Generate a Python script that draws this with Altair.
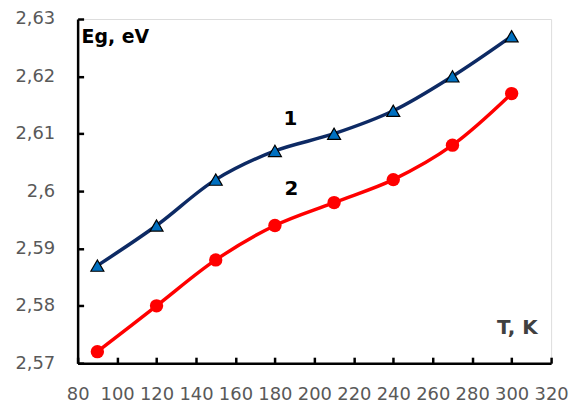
import altair as alt
import pandas as pd

T = [90, 120, 150, 180, 210, 240, 270, 300]
eg1 = [2.587, 2.594, 2.602, 2.607, 2.610, 2.614, 2.620, 2.627]
eg2 = [2.572, 2.580, 2.588, 2.594, 2.598, 2.602, 2.608, 2.617]

x_ticks = [80, 100, 120, 140, 160, 180, 200, 220, 240, 260, 280, 300, 320]
y_ticks = [2.57, 2.58, 2.59, 2.60, 2.61, 2.62, 2.63]

ann_text = ["T, K", "1", "2"]
ann_x = [302.9, 187.9, 188.4]
ann_y = [2.5761, 2.6126, 2.6003]
ann_color = ["#404040", "#000000", "#000000"]
ylabel_text = ["Eg, eV"]
ylabel_x = [82]
ylabel_y = [2.6268]

df1 = pd.DataFrame({"T": T, "Eg": eg1})
df2 = pd.DataFrame({"T": T, "Eg": eg2})
ann = pd.DataFrame({"T": ann_x, "Eg": ann_y, "t": ann_text, "c": ann_color})
ylab = pd.DataFrame({"T": ylabel_x, "Eg": ylabel_y, "t": ylabel_text})

FONT = "DejaVu Sans"
xs = alt.Scale(domain=[80, 320], nice=False, zero=False)
ys = alt.Scale(domain=[2.57, 2.63], nice=False, zero=False)

xax = alt.Axis(values=x_ticks, title=None, grid=False,
               domain=True, domainColor="#000000", domainWidth=2.5,
               ticks=True, tickColor="#000000", tickWidth=2.5, tickSize={"expr": "-6"},
               labelFont=FONT, labelFontSize=18, labelColor="#595959", labelPadding=29,
               labelOverlap=False, labelFlush=False)
yax = alt.Axis(values=y_ticks, title=None, grid=False,
               domain=True, domainColor="#000000", domainWidth=2.5,
               ticks=True, tickColor="#000000", tickWidth=2.5, tickSize={"expr": "-6"},
               labelFont=FONT, labelFontSize=18, labelColor="#595959", labelPadding=29,
               labelOverlap=False, labelFlush=False,
               labelExpr="replace(format(datum.value, '.2~f'), '.', ',')")

x = alt.X("T:Q", scale=xs, axis=xax)
y = alt.Y("Eg:Q", scale=ys, axis=yax)

line1 = alt.Chart(df1).mark_line(color="#0D2A64", strokeWidth=3.5, interpolate="catmull-rom").encode(x=x, y=y)
pts1 = alt.Chart(df1).mark_point(shape="triangle-up", filled=True, fill="#0070C0", stroke="#000000",
                                 strokeWidth=1.2, size=170, opacity=1).encode(x=x, y=y)
line2 = alt.Chart(df2).mark_line(color="#FF0000", strokeWidth=3.5, interpolate="catmull-rom").encode(x=x, y=y)
pts2 = alt.Chart(df2).mark_point(shape="circle", filled=True, fill="#FF0000", strokeWidth=0,
                                 size=180, opacity=1).encode(x=x, y=y)

labels = alt.Chart(ann).mark_text(font=FONT, fontSize=20, fontWeight="bold", baseline="middle",
                                  align="center").encode(
    x=x, y=y,
    text="t:N",
    color=alt.Color("c:N", scale=None),
)
ytitle = alt.Chart(ylab).mark_text(font=FONT, fontSize=19, fontWeight="bold", baseline="middle",
                                   align="left", color="#000000").encode(
    x=x, y=y,
    text="t:N",
)

chart = alt.layer(line1, line2, pts1, pts2, labels, ytitle).properties(
    width=476, height=346,
    autosize=alt.AutoSizeParams(type="none"),
    padding={"left": 70, "top": 10, "right": 20, "bottom": 43},
).configure_view(stroke=None).configure(background="#ffffff")

chart.save("out.html", embed_options={"renderer": "svg", "actions": False})
